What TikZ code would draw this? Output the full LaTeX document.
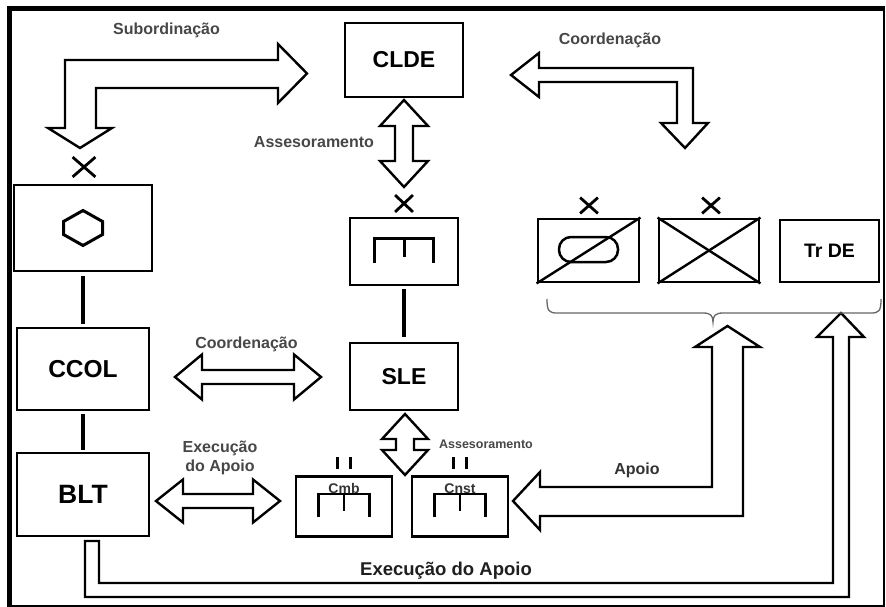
\documentclass[tikz,border=0pt]{standalone}
\usepackage{fontspec}
\setmainfont{Liberation Sans}
\usetikzlibrary{shapes.misc}

% horizontal double block arrow: x1, x2, y, shaft half width, head half width, head length
\newcommand{\blkH}[6]{%
  \draw[blockarrow] (#1,#3) -- ({#1+#6},{#3-#5}) -- ({#1+#6},{#3-#4}) -- ({#2-#6},{#3-#4})
    -- ({#2-#6},{#3-#5}) -- (#2,#3) -- ({#2-#6},{#3+#5}) -- ({#2-#6},{#3+#4})
    -- ({#1+#6},{#3+#4}) -- ({#1+#6},{#3+#5}) -- cycle;}
% vertical double block arrow: y1, y2, x, shaft half width, head half width, head length
\newcommand{\blkV}[6]{%
  \draw[blockarrow] (#3,#1) -- ({#3+#5},{#1+#6}) -- ({#3+#4},{#1+#6}) -- ({#3+#4},{#2-#6})
    -- ({#3+#5},{#2-#6}) -- (#3,#2) -- ({#3-#5},{#2-#6}) -- ({#3-#4},{#2-#6})
    -- ({#3-#4},{#1+#6}) -- ({#3-#5},{#1+#6}) -- cycle;}

\begin{document}
\begin{tikzpicture}[x=1pt,y=-1pt,
  unit/.style={draw, line width=2.9pt, inner sep=0pt, font=\bfseries},
  blockarrow/.style={draw, line width=2.4pt, fill=white, line join=miter},
  link/.style={line width=3.4pt},
  symb/.style={line width=3pt},
  crossmark/.style={cross out, draw, line width=2.8pt, inner sep=0pt},
  lbl/.style={font=\bfseries\fontsize{16}{19}\selectfont, text=black!72, inner sep=0pt},
  small/.style={font=\bfseries\fontsize{14}{15}\selectfont, inner sep=0pt, text=black!80},
]
\fill[white] (0,0) rectangle (886,607);
\useasboundingbox (0,0) rectangle (886,607);

% outer frame
\draw[line width=2pt] (884,8.5) -- (884,605.5) -- (9.5,605.5);
\draw[line width=4.5pt] (9.5,607) -- (9.5,8.5) -- (885,8.5);

% command units
\node[unit, minimum width=118pt, minimum height=74pt, font=\bfseries\fontsize{23}{23}\selectfont] (clde) at (404,60) {CLDE};
\node[unit, minimum width=138pt, minimum height=86pt] (hexu) at (83,228) {};
\node[unit, minimum width=132pt, minimum height=82pt, font=\bfseries\fontsize{24.5}{24}\selectfont] (ccol) at (83,369) {CCOL};
\node[unit, minimum width=132pt, minimum height=83pt, font=\bfseries\fontsize{26.5}{26}\selectfont] (blt) at (83,494.5) {BLT};
\node[unit, minimum width=108pt, minimum height=67pt] (engu) at (404,251.5) {};
\node[unit, minimum width=108pt, minimum height=67pt, font=\bfseries\fontsize{23}{23}\selectfont] (sle) at (404,376.5) {SLE};
\node[unit, minimum width=101pt, minimum height=63pt] (recon) at (588.5,250.5) {};
\node[unit, minimum width=100pt, minimum height=63pt] (inf) at (709,250.5) {};
\node[unit, minimum width=99pt, minimum height=62pt, font=\bfseries\fontsize{19.5}{20}\selectfont] (trde) at (829.5,251) {Tr DE};
\node[unit, minimum width=96pt, minimum height=60pt, line width=2.4pt] (cmb) at (344,506.5) {};
\node[unit, minimum width=96pt, minimum height=60pt, line width=2.4pt] (cnst) at (460,506.5) {};

% size marks
\node[crossmark, minimum width=20pt, minimum height=17pt] (xhex) at (84,167) {};
\node[crossmark, minimum width=15pt, minimum height=14pt] (xeng) at (404,203.5) {};
\node[crossmark, minimum width=15pt, minimum height=13pt] (xrecon) at (589,205.5) {};
\node[crossmark, minimum width=15pt, minimum height=13pt] (xinf) at (711,205.5) {};

% hexagon
\begin{scope}[shift={(hexu.center)}]
  \draw[symb, line join=miter] (0,-17.5) -- (19.5,-6.5) -- (19.5,6.5) -- (0,17.5)
    -- (-19.5,6.5) -- (-19.5,-6.5) -- cycle;
\end{scope}
% engineer symbol
\begin{scope}[shift={(engu.center)}]
  \draw[symb] (-29.5,11.5) -- (-29.5,-13.5) -- (29.5,-13.5) -- (29.5,11.5);
  \draw[symb] (0,-13.5) -- (0,5.5);
\end{scope}
% reconnaissance / armoured
\draw[line width=2.4pt] (recon.south west) -- (recon.north east);
\begin{scope}[shift={(recon.center)}]
  \draw[line width=2.5pt, rounded corners=12pt] (-29.5,-13.5) rectangle (29.5,11.5);
\end{scope}
\draw[line width=2.4pt] (inf.south west) -- (inf.north east);
\draw[line width=2.4pt] (inf.north west) -- (inf.south east);

% company titles and symbols
\node[small, anchor=base] (tcmb) at (344,493) {Cmb};
\node[small, anchor=base] (tcnst) at (460,493) {Cnst};
\foreach \u in {cmb,cnst}{
  \begin{scope}[shift={(\u.center)}]
    \draw[line width=2.6pt] (-25.5,10.5) -- (-25.5,-12.5) -- (25.5,-12.5) -- (25.5,10.5);
    \draw[line width=2.6pt] (0,-12.5) -- (0,4.5);
    \draw[line width=2.6pt] (-6.5,-49.5) -- (-6.5,-37.5);
    \draw[line width=2.6pt] (6.5,-49.5) -- (6.5,-37.5);
  \end{scope}
}

% links
\draw[link, shorten <=4pt, shorten >=3pt] (hexu) -- (ccol);
\draw[link, shorten <=3pt, shorten >=2pt] (ccol) -- (blt);
\draw[link, shorten <=3pt, shorten >=5pt] (engu) -- (sle);

% block arrows
\draw[blockarrow] (307,73.5) -- (278,44) -- (278,60) -- (65,60) -- (65,128) -- (48,128)
  -- (80,148) -- (112,128) -- (96,128) -- (96,88) -- (278,88) -- (278,103) -- cycle;
\draw[blockarrow] (511,75) -- (539,53) -- (539,68) -- (693,68) -- (693,123) -- (708,123)
  -- (685,148) -- (661,123) -- (677,123) -- (677,82) -- (539,82) -- (539,97) -- cycle;
\draw[blockarrow] (513,501) -- (540,472) -- (540,487) -- (712,487) -- (712,347) -- (695,347)
  -- (727.5,326) -- (760,347) -- (743,347) -- (743,516) -- (540,516) -- (540,530) -- cycle;
\draw[blockarrow] (85,541) -- (85,597) -- (849,597) -- (849,337) -- (864,337) -- (841,313)
  -- (817,337) -- (833,337) -- (833,583) -- (99,583) -- (99,541) -- cycle;
\blkV{100}{187}{404}{9}{24}{26}
\blkH{175}{321}{377}{7}{22.5}{27}
\blkH{156}{280}{501}{7}{21.5}{27}
\blkV{414}{475}{405}{9}{23}{25}

% brace under the supporting units
\draw[black!60, line width=1.3pt] (547,299) .. controls (547,311) and (549,313) .. (557,313)
  -- (703,313) .. controls (711,313) and (713,316) .. (713,322)
  .. controls (713,316) and (715,313) .. (723,313) -- (871,313)
  .. controls (879,313) and (881,311) .. (881,299);

% labels
\node[lbl, anchor=base] (lsub) at (166.5,34.5) {Subordinação};
\node[lbl, anchor=base] (lcoordtop) at (610,45) {Coordenação};
\node[lbl, anchor=base] (lasstop) at (314,147) {Assesoramento};
\node[lbl, anchor=base] (lcoordmid) at (246.5,348) {Coordenação};
\node[lbl, align=center] (lexec) at (220,458) {Execução\\do Apoio};
\node[lbl, anchor=base, font=\bfseries\fontsize{12.5}{15}\selectfont] (lassbot) at (486,448) {Assesoramento};
\node[lbl, anchor=base, text=black!80] (lapoio) at (637,474) {Apoio};
\node[lbl, anchor=base, font=\bfseries\fontsize{18.5}{22}\selectfont, text=black!88] (lexecbot) at (446,575) {Execução do Apoio};
\end{tikzpicture}
\end{document}
